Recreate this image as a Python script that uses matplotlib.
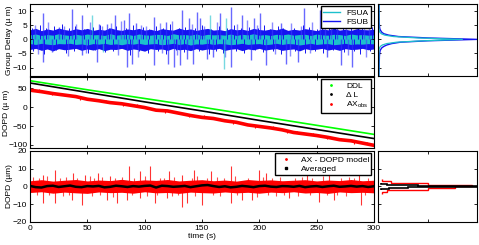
import numpy as np
import matplotlib.pyplot as plt

plt.rcParams['font.family'] = ['Liberation Sans', 'DejaVu Sans']
plt.rcParams['font.size'] = 6
plt.rcParams['mathtext.fontset'] = 'custom'
plt.rcParams['mathtext.rm'] = 'Liberation Sans'
plt.rcParams['mathtext.it'] = 'Liberation Sans'

# ---- datos ----
t_env = np.arange(0, 301, 5)

# envolventes del retardo de grupo (um)
fsub_hi = [3.4, 3.9, 3.1, 3.7, 3.3, 4.0, 3.5, 3.2, 3.8, 3.4, 3.9, 3.2, 3.6, 3.3, 4.1, 3.5,
           3.2, 3.7, 3.4, 3.9, 3.3, 3.6, 3.1, 3.8, 3.5, 3.3, 4.0, 3.4, 3.7, 3.2, 3.6, 3.9,
           3.3, 3.5, 3.1, 3.8, 3.4, 3.6, 3.2, 3.9, 3.5, 3.3, 3.7, 3.4, 4.0, 3.2, 3.6, 3.3,
           3.8, 3.5, 3.1, 3.7, 3.4, 3.9, 3.3, 3.6, 3.2, 3.8, 3.5, 3.4, 3.6]
fsub_lo = [-3.6, -3.2, -3.9, -3.4, -4.1, -3.3, -3.7, -3.5, -3.2, -3.9, -3.4, -3.8, -3.3, -4.0, -3.5, -3.6,
           -3.2, -3.9, -3.4, -3.7, -4.2, -3.3, -3.6, -3.4, -3.9, -3.2, -3.7, -3.5, -4.0, -3.3, -3.8, -3.4,
           -3.6, -3.2, -3.9, -3.5, -3.3, -4.0, -3.4, -3.7, -3.2, -3.8, -3.5, -3.3, -3.9, -3.6, -3.4, -4.1,
           -3.3, -3.7, -3.5, -3.2, -3.8, -3.4, -3.9, -3.3, -3.6, -3.5, -3.2, -3.7, -3.4]
fsua_hi = [1.6, 1.9, 1.4, 1.7, 1.5, 2.0, 1.6, 1.4, 1.8, 1.5, 1.9, 1.6, 1.7, 1.4, 2.0, 1.5,
           1.7, 1.8, 1.4, 1.9, 1.6, 1.5, 1.8, 1.7, 1.4, 2.0, 1.6, 1.7, 1.5, 1.9, 1.4, 1.8,
           1.6, 1.7, 1.5, 1.9, 1.4, 1.8, 1.6, 2.0, 1.5, 1.7, 1.4, 1.8, 1.6, 1.9, 1.5, 1.7,
           1.8, 1.4, 1.9, 1.6, 1.5, 1.8, 1.7, 1.4, 1.9, 1.6, 1.7, 1.5, 1.6]
fsua_lo = [-1.5, -1.8, -1.4, -1.7, -1.9, -1.5, -1.6, -1.4, -1.8, -1.6, -2.0, -1.5, -1.7, -1.4, -1.8, -1.6,
           -1.9, -1.5, -1.7, -1.4, -1.8, -1.6, -1.5, -1.9, -1.7, -1.4, -1.8, -1.5, -2.0, -1.6, -1.7, -1.4,
           -1.8, -1.5, -1.6, -1.9, -1.7, -1.4, -1.8, -1.6, -1.5, -1.9, -1.7, -1.4, -1.8, -1.5, -1.6, -2.0,
           -1.7, -1.4, -1.8, -1.6, -1.5, -1.9, -1.7, -1.4, -1.8, -1.6, -1.7, -1.5, -1.6]

# picos FSUB
fsub_up_t = [11, 25.7, 36.5, 45, 59.8, 67.6, 74.3, 82.2, 86, 92.7, 107.8, 118.7, 132.7, 138.5,
             145.8, 148.7, 166, 175, 185, 195, 201, 218.6, 239, 253, 268, 285.7]
fsub_up_v = [9.5, 4.5, 10.7, 8.7, 5.5, 5.5, 8.7, 7, 9.3, 5.7, 8, 6.3, 10.5, 7.5,
             9.9, 7.5, 9.3, 11.5, 8.7, 7.5, 9.3, 5.7, 11, 10.5, 7.5, 7]
fsub_dn_t = [11, 19.3, 45, 58.5, 84.4, 88.8, 107.8, 120.4, 126, 131, 137, 142.3, 154.5, 160,
             175, 192.4, 205.5, 223, 233.8, 259.5, 271, 281]
fsub_dn_v = [-8, -4.4, -5.6, -8, -9.8, -8.6, -9.2, -8.6, -9.8, -9.2, -6.8, -8.6, -6.8, -6.2,
             -9.8, -7.4, -9.2, -8.6, -8, -6.2, -9.2, -9.8]
fsub_mid_t = [4, 16, 30, 40, 52, 63, 71, 79, 97, 101, 113, 124, 141, 152, 163, 181, 189, 198,
              211, 228, 236, 246, 257, 263, 276, 291, 296, 7, 33, 49, 77, 94, 115, 128, 170,
              214, 227, 244, 277, 293]
fsub_mid_v = [5.2, 6.1, 4.8, 5.5, 6.3, 4.9, 5.8, 6.6, 5.1, 4.7, 5.9, 6.4, 5.3, 4.9, 6.0, 5.4,
              6.8, 5.0, 6.2, 5.7, 4.8, 6.1, 5.2, 5.9, 6.4, 5.5, 4.9, -5.3, -6.0, -4.8, -5.7,
              -6.2, -5.0, -5.5, -6.4, -5.1, -5.9, -4.7, -5.6, -6.1]
fsub_small_t = [2, 9, 14, 21, 28, 34, 39, 47, 55, 61, 69, 75, 84, 90, 99, 104, 110, 116, 122,
                130, 135, 144, 150, 158, 165, 172, 178, 184, 191, 199, 204, 209, 216, 221,
                230, 238, 243, 250, 255, 261, 266, 273, 280, 286, 290, 298,
                3, 12, 23, 31, 38, 51, 57, 65, 72, 87, 95, 103, 112, 119, 127, 134, 147,
                156, 162, 168, 180, 187, 196, 203, 212, 219, 231, 240, 249, 256, 264, 274,
                283, 288, 297]
fsub_small_v = [4.0, 5.1, 3.9, 4.6, 5.4, 4.1, 4.7, 3.8, 4.3, 5.2, 4.0, 4.6, 3.9, 5.0, 4.4,
                3.8, 4.9, 4.2, 5.3, 3.9, 4.5, 4.1, 5.0, 3.8, 4.7, 4.2, 5.2, 3.9, 4.4, 4.0,
                5.1, 3.8, 4.6, 4.2, 3.9, 5.0, 4.3, 3.8, 5.3, 4.4, 4.0, 4.8, 3.9, 5.1, 4.1, 4.5,
                -4.2, -5.3, -3.9, -4.8, -4.1, -5.0, -3.9, -4.5, -4.2, -5.4, -4.0, -4.7,
                -4.1, -5.1, -3.9, -4.4, -4.3, -5.2, -4.0, -4.8, -4.1, -5.0, -3.9, -4.6,
                -4.2, -5.3, -4.0, -4.7, -4.1, -5.0, -3.9, -4.5, -4.3, -5.1, -4.0]
fsua_sp_t = [54.5, 156.8, 171.4, 169, 64]
fsua_sp_v = [8.7, 8.7, 7.5, -10.4, -4.5]

# DOPD: lineas de retardo y observaciones
t_lin = [0, 50, 100, 150, 200, 250, 300]
ddl = [70, 46, 23, 0, -24, -48, -72]
delta_l = [64, 39, 14, -10, -35, -59, -83]
t_ax = np.arange(0, 301, 10)
ax_obs = [45, 41, 36, 32, 28, 21, 17, 12, 9, 4, -1, -8, -10, -16, -22, -27,
          -30, -36, -40, -47, -51, -55, -60, -67, -71, -75, -80, -86, -89, -95, -101]
ax_sp_t = [8, 19, 27, 44, 58, 66, 81, 93, 104, 118, 127, 139, 152, 166, 177, 188, 196, 212,
           224, 233, 247, 259, 271, 283, 294]
ax_sp_dv = [6, -5, 5, -6, 5, 6, -5, 6, 5, -6, 5, -5, 6, 5, -6, 5, -5, 6, -6, 5, 6, -5, 5, -6, 6]

# residuos AX - DOPD
res_hi = [3.2, 3.8, 3.0, 3.5, 3.9, 3.1, 3.6, 3.3, 4.0, 3.2, 3.7, 3.4, 3.9, 3.1, 3.5, 3.8,
          3.2, 3.6, 3.0, 3.9, 3.4, 3.7, 3.2, 3.5, 3.8, 3.1, 3.6, 3.3, 3.9, 3.2, 3.5]
res_lo = [-3.4, -3.0, -3.8, -3.2, -3.6, -3.9, -3.1, -3.5, -3.3, -3.8, -3.0, -3.6, -3.4, -3.9, -3.2, -3.5,
          -3.7, -3.1, -3.6, -3.3, -3.8, -3.2, -3.5, -3.0, -3.7, -3.4, -3.9, -3.1, -3.5, -3.3, -3.6]
res_up_t = [11.7, 21.9, 37.3, 48, 59, 70, 86, 96.2, 105, 121, 132.7, 143, 157.5, 175,
            199.8, 205.6, 242, 261, 287]
res_up_v = [6.6, 9.4, 7.5, 6.6, 7.5, 5.7, 11.3, 8.5, 11.7, 8.5, 6.6, 9.4, 8.5, 11.3,
            9.4, 7.5, 6.6, 7.5, 6.6]
res_dn_t = [11.7, 21.9, 36.5, 45, 67, 76, 85, 96, 108.8, 119.6, 132.7, 137, 150, 175,
            185, 194, 226, 252, 265.4, 288.7]
res_dn_v = [-9.4, -9.4, -7.5, -10.4, -7.5, -9.4, -7.5, -6.6, -9.4, -6.6, -11.3, -9.4, -10.4, -9.4,
            -7.5, -7.5, -6.6, -8.5, -7.5, -10.4]
res_small_t = [3, 8, 15, 26, 31, 41, 52, 56, 63, 74, 80, 91, 100, 113, 117, 126, 141, 146,
               154, 163, 169, 179, 190, 203, 211, 218, 231, 237, 246, 256, 271, 278, 283, 295,
               6, 17, 29, 34, 54, 61, 72, 89, 102, 111, 124, 129, 144, 160, 166, 181, 198,
               208, 215, 222, 234, 244, 259, 268, 276, 292]
res_small_v = [5.1, 4.6, 5.6, 4.8, 5.3, 4.5, 5.8, 4.9, 5.2, 4.7, 5.5, 4.6, 6.0, 5.0, 4.8,
               5.4, 4.6, 5.7, 4.9, 5.3, 4.7, 5.6, 4.8, 5.1, 4.6, 5.5, 4.9, 5.2, 4.7, 5.8,
               4.8, 5.4, 4.6, 5.0,
               -5.0, -4.6, -5.5, -4.8, -5.2, -4.7, -5.9, -4.6, -5.3, -4.9, -5.6, -4.7, -5.1,
               -4.8, -5.4, -4.6, -5.7, -4.9, -5.2, -4.7, -5.5, -4.8, -5.0, -4.6, -5.3, -4.9]
t_avg = np.arange(0, 301, 5)
avg = [0.3, -0.4, -0.6, 0.2, 0.4, -0.3, 0.1, 0.5, -0.2, -0.4, 0.2, 0.0, 0.3, -0.5, -0.2, 0.4,
       0.1, -0.3, 0.2, -0.1, 0.3, 0.5, -0.6, 0.4, 0.2, -0.2, 0.0, 0.3, -0.4, 0.1, 0.6, 0.8,
       0.2, -0.3, 0.1, -0.5, -0.2, 0.3, 0.0, -0.4, 0.2, 0.4, -0.1, -0.3, 0.2, 0.1, -0.2, 0.3,
       -0.4, 0.0, 0.2, -0.3, 0.1, 0.4, -0.2, 0.0, 0.3, -0.1, 0.2, -0.3, 0.1]

# histogramas (cuentas normalizadas)
hist_bins = [-13, -6, -5, -4, -3.5, -3, -2.5, -2, -1.5, -1, -0.5, 0, 0.5, 1, 1.5, 2, 2.5, 3,
             3.5, 4, 5, 6, 13]
hist_fsub = [0, 0.005, 0.008, 0.012, 0.02, 0.03, 0.05, 0.08, 0.13, 0.22, 0.5, 1.0, 0.5,
             0.2, 0.1, 0.05, 0.03, 0.02, 0.012, 0.008, 0.005, 0.003, 0]
hist_fsua = [0, 0, 0, 0, 0.002, 0.006, 0.015, 0.035, 0.08, 0.18, 0.45, 0.85, 0.4, 0.15, 0.06,
             0.025, 0.01, 0.005, 0.002, 0, 0, 0, 0]
res_edges = [-4, -3, -2, -1, 0, 1, 2, 3, 4]
hist_res = [0.03, 0.08, 0.5, 0.78, 0.95, 0.5, 0.12, 0.03]
avg_edges = [-2, -1.5, -1, -0.5, 0, 0.5, 1, 1.5, 2]
hist_avg = [0.02, 0.1, 0.3, 1.0, 1.0, 0.4, 0.08, 0.02]

cyan = '#1CC0CC'
blue = '#1414f0'

fig = plt.figure(figsize=(4.79, 2.45), dpi=100)
ax1 = fig.add_axes([0.0626, 0.690, 0.718, 0.294])
ax2 = fig.add_axes([0.0626, 0.396, 0.718, 0.290])
ax3 = fig.add_axes([0.0626, 0.094, 0.718, 0.290])
h1 = fig.add_axes([0.789, 0.690, 0.207, 0.294])
h3 = fig.add_axes([0.789, 0.094, 0.207, 0.290])

legend_kw = dict(loc='upper right', fontsize=6, fancybox=False, edgecolor='black',
                 framealpha=1, handlelength=2.0, borderaxespad=0.3, borderpad=0.3,
                 labelspacing=0.15, handletextpad=0.8)

# panel 1
ax1.vlines(fsub_mid_t, 0, fsub_mid_v, color='#4040ff', lw=1.0, alpha=0.6)
ax1.vlines(fsub_up_t, 0, fsub_up_v, color='#2a2aff', lw=1.0, alpha=0.7)
ax1.vlines(fsub_dn_t, 0, fsub_dn_v, color='#2a2aff', lw=1.0, alpha=0.7)
ax1.vlines(fsub_small_t, 0, fsub_small_v, color=blue, lw=0.7)
ax1.fill_between(t_env, fsub_lo, fsub_hi, color=blue, lw=0)
ax1.vlines(fsua_sp_t, 0, fsua_sp_v, color=cyan, lw=1.0, alpha=0.6)
ax1.fill_between(t_env, fsua_lo, fsua_hi, color=cyan, lw=0)
ax1.plot([], [], color=cyan, lw=1, label='FSUA')
ax1.plot([], [], color=blue, lw=1, label='FSUB')
ax1.set_ylim(-13, 12.6)
ax1.set_yticks([-10, -5, 0, 5, 10])
ax1.set_ylabel('Group Delay (µ m)')
ax1.yaxis.set_label_coords(-0.05, 0.5)
ax1.legend(**legend_kw)

# panel 2
ax2.plot(t_lin, ddl, color='#00ff00', lw=1.2)
ax2.plot(t_lin, delta_l, color='black', lw=1.2)
ax2.vlines(ax_sp_t, np.interp(ax_sp_t, t_ax, ax_obs),
           np.interp(ax_sp_t, t_ax, ax_obs) + np.array(ax_sp_dv), color='red', lw=0.8)
ax2.plot(t_ax, ax_obs, color='red', lw=2.6)
ax2.plot([], [], '.', color='#00ff00', ms=2, label='DDL')
ax2.plot([], [], '.', color='black', ms=2, label='Δ L')
ax2.plot([], [], '.', color='red', ms=2, label='AX$_{\\rm obs}$')
ax2.set_ylim(-108, 80)
ax2.set_yticks([-100, -50, 0, 50])
ax2.set_ylabel('DOPD (µ m)')
ax2.yaxis.set_label_coords(-0.058, 0.5)
ax2.legend(**legend_kw)

# panel 3
ax3.vlines(res_small_t, 0, res_small_v, color='red', lw=0.8, alpha=0.7)
ax3.vlines(res_up_t, 0, res_up_v, color='red', lw=0.8, alpha=0.8)
ax3.vlines(res_dn_t, 0, res_dn_v, color='red', lw=0.8, alpha=0.8)
ax3.fill_between(t_ax, res_lo, res_hi, color='red', lw=0)
ax3.plot(t_avg, avg, color='black', lw=1.8)
ax3.plot([], [], '.', color='red', ms=2, label='AX - DOPD model')
ax3.plot([], [], 's', color='black', ms=2, label='Averaged')
ax3.set_ylim(-20, 20)
ax3.set_yticks([-20, -10, 0, 10, 20])
ax3.set_ylabel('DOPD (µm)')
ax3.yaxis.set_label_coords(-0.048, 0.5)
ax3.set_xlabel('time (s)', labelpad=1)
ax3.legend(**legend_kw)

for a in (ax1, ax2, ax3):
    a.set_xlim(0, 300)
    a.set_xticks([0, 50, 100, 150, 200, 250, 300])
    a.tick_params(direction='in', top=True, right=True, length=2.5, width=0.6, pad=2)
    for s in a.spines.values():
        s.set_linewidth(0.8)
ax1.tick_params(labelbottom=False)
ax2.tick_params(labelbottom=False)

# histogramas
h1.plot(hist_fsub, hist_bins, color=blue, lw=1.0)
h1.plot(hist_fsua, hist_bins, color=cyan, lw=0.9)
h1.set_ylim(ax1.get_ylim())
h1.set_yticks([-10, -5, 0, 5, 10])

h3.stairs(hist_res, res_edges, orientation='horizontal', color='red', lw=1.0, baseline=None)
h3.stairs(hist_avg, avg_edges, orientation='horizontal', color='black', lw=1.2, baseline=None)
h3.set_ylim(-20, 20)
h3.set_yticks([-20, -10, 0, 10, 20])

for h in (h1, h3):
    h.set_xlim(-0.01, 1.0)
    h.set_xticks([0.5])
    h.tick_params(direction='in', top=True, right=True, length=2.5, width=0.6,
                  labelleft=False, labelbottom=False)
    for s in h.spines.values():
        s.set_linewidth(0.8)

fig.savefig('out.png', dpi=100)
